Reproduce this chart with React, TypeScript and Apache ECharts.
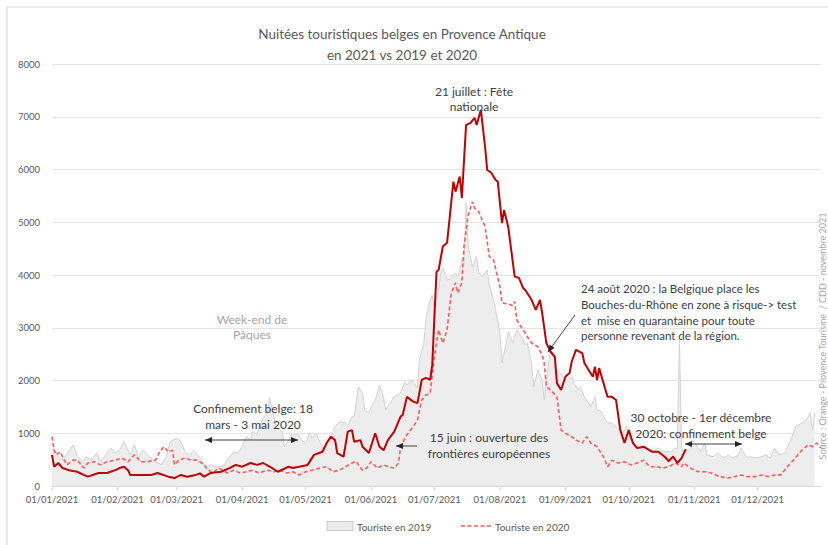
import React, { useEffect, useRef } from "react";
import * as echarts from "echarts";

// ---- axis categories (every day of 2021) ----
const categories: string[] = Array.from({ length: 365 }, (_, i) => {
  const d = new Date(Date.UTC(2021, 0, 1 + i));
  const dd = String(d.getUTCDate()).padStart(2, "0");
  const mm = String(d.getUTCMonth() + 1).padStart(2, "0");
  return `${dd}/${mm}/2021`;
});

const yTicks = [0, 1000, 2000, 3000, 4000, 5000, 6000, 7000, 8000];

// ---- 2019 (grey area) : day-of-year index / value ----
const days2019 = [0, 1, 3, 5, 8, 10, 12, 15, 16, 19, 21, 23, 26, 28, 30, 32, 34, 37, 39, 41, 43, 45, 49, 52, 54, 56, 59, 61, 63, 65, 67, 70, 73, 75, 78, 81, 83, 86, 88, 90, 92, 94, 95, 97, 98, 100, 102, 103, 105, 106, 109, 110, 112, 113, 115, 116, 118, 120, 122, 123, 125, 127, 129, 131, 134, 136, 139, 140, 142, 143, 145, 147, 148, 150, 151, 153, 155, 157, 158, 160, 162, 165, 167, 168, 170, 173, 174, 176, 177, 179, 180, 181, 183, 184, 185, 187, 189, 191, 192, 193, 194, 195, 196, 197, 199, 201, 202, 204, 206, 207, 209, 210, 212, 213, 215, 216, 218, 220, 222, 224, 225, 227, 228, 230, 232, 233, 235, 236, 238, 239, 242, 244, 246, 247, 249, 250, 252, 254, 255, 257, 258, 260, 262, 263, 265, 267, 269, 270, 272, 274, 276, 278, 281, 283, 285, 287, 289, 293, 295, 296, 297, 298, 299, 302, 303, 305, 307, 309, 310, 313, 315, 318, 320, 322, 325, 326, 329, 331, 333, 336, 338, 340, 342, 344, 347, 349, 351, 352, 355, 357, 359, 360, 361];
const values2019 = [680, 720, 555, 490, 650, 780, 555, 436, 555, 490, 625, 460, 625, 720, 625, 680, 840, 590, 780, 530, 680, 590, 460, 400, 555, 840, 910, 840, 650, 555, 680, 530, 360, 400, 366, 366, 490, 650, 625, 745, 935, 870, 1030, 970, 1125, 1290, 1385, 1670, 1315, 1125, 1030, 745, 870, 970, 970, 1000, 870, 815, 1000, 910, 1000, 815, 650, 815, 1125, 1220, 1195, 1125, 1315, 1300, 1880, 1760, 1440, 1385, 1480, 1630, 1915, 1670, 1440, 1570, 1690, 1760, 1975, 1915, 2010, 1860, 2425, 2710, 3150, 3530, 3620, 3400, 3715, 4040, 4135, 3905, 3945, 4040, 3970, 4095, 4285, 4200, 5365, 4540, 4160, 4350, 4040, 3970, 4095, 3810, 3530, 3340, 2900, 2330, 2710, 2930, 2710, 2960, 2830, 2675, 2710, 2330, 1880, 2200, 2010, 1630, 2330, 2580, 2450, 2200, 2070, 2010, 2070, 1950, 1820, 1880, 1690, 1570, 1505, 1690, 1440, 1410, 1250, 1195, 1195, 1125, 1060, 1000, 1125, 870, 745, 720, 680, 680, 680, 720, 650, 650, 720, 700, 2770, 745, 625, 680, 870, 780, 650, 815, 590, 555, 625, 530, 590, 530, 590, 720, 530, 555, 530, 555, 590, 530, 720, 590, 625, 815, 1000, 1125, 1195, 1250, 1385, 1060, 1385];

// ---- 2020 (dashed red) ----
const days2020 = [0, 1, 2, 4, 5, 7, 10, 12, 15, 17, 20, 23, 26, 30, 33, 36, 39, 42, 45, 49, 51, 53, 55, 57, 58, 60, 63, 66, 69, 72, 73, 76, 79, 83, 86, 89, 92, 95, 98, 102, 105, 108, 111, 114, 117, 120, 123, 127, 130, 133, 136, 139, 142, 144, 145, 147, 149, 151, 154, 157, 159, 162, 164, 165, 168, 171, 173, 175, 177, 179, 181, 183, 185, 187, 189, 191, 192, 194, 195, 197, 199, 200, 202, 205, 207, 209, 212, 213, 216, 218, 219, 220, 222, 224, 225, 227, 230, 232, 233, 234, 236, 239, 241, 243, 246, 248, 251, 253, 255, 258, 261, 263, 265, 268, 271, 274, 277, 280, 283, 286, 289, 292, 295, 298, 299, 302, 306, 309, 312, 316, 320, 323, 326, 329, 333, 336, 339, 342, 345, 348, 351, 353, 355, 358, 360, 362, 364];
const values2020 = [935, 680, 590, 650, 555, 400, 490, 490, 340, 436, 460, 400, 460, 490, 530, 460, 590, 460, 460, 490, 650, 745, 650, 680, 400, 490, 530, 490, 490, 400, 340, 246, 340, 246, 300, 246, 270, 300, 246, 300, 270, 300, 246, 270, 210, 270, 300, 340, 366, 270, 300, 366, 436, 470, 400, 300, 340, 460, 340, 400, 366, 340, 430, 745, 970, 1125, 1250, 1630, 1725, 1760, 2450, 2960, 2710, 2960, 3660, 3850, 3660, 3850, 4540, 5140, 5390, 5270, 5200, 4915, 4350, 4285, 3780, 3470, 3450, 3420, 3495, 3150, 3020, 2900, 2830, 2710, 2640, 2485, 2330, 1880, 1820, 1690, 1060, 1000, 935, 870, 815, 935, 815, 745, 555, 366, 490, 436, 460, 400, 436, 490, 366, 366, 340, 366, 436, 366, 436, 340, 270, 270, 246, 177, 150, 177, 210, 177, 177, 210, 177, 210, 210, 366, 490, 590, 680, 780, 745, 815, 720];

// ---- 2021 (solid dark red) ----
const days2021 = [0, 1, 3, 5, 8, 12, 15, 17, 22, 26, 30, 32, 34, 36, 37, 42, 47, 50, 55, 58, 61, 64, 68, 70, 72, 75, 80, 84, 87, 90, 94, 97, 100, 103, 107, 112, 114, 117, 121, 124, 128, 130, 132, 134, 135, 138, 140, 142, 143, 146, 147, 150, 153, 155, 157, 159, 162, 165, 166, 168, 171, 173, 175, 177, 179, 180, 181, 182, 183, 185, 187, 190, 191, 193, 194, 196, 198, 200, 201, 203, 205, 206, 208, 210, 211, 213, 214, 216, 219, 221, 223, 224, 227, 229, 231, 232, 234, 236, 238, 239, 241, 243, 245, 246, 248, 251, 252, 254, 256, 257, 258, 259, 262, 263, 265, 267, 269, 271, 273, 275, 277, 280, 284, 287, 290, 292, 294, 296, 298, 300];
const values2021 = [590, 366, 436, 340, 300, 270, 210, 177, 246, 246, 300, 340, 366, 300, 210, 210, 210, 246, 177, 150, 210, 177, 210, 240, 177, 246, 270, 340, 400, 366, 436, 400, 436, 366, 270, 366, 340, 366, 400, 590, 650, 815, 935, 870, 625, 555, 1030, 1060, 840, 870, 745, 625, 1000, 745, 680, 870, 1030, 1315, 1345, 1690, 1600, 1570, 2010, 2050, 2010, 2300, 3200, 4060, 4095, 4540, 4610, 5770, 5580, 5865, 5460, 6845, 6880, 6980, 6845, 7130, 6430, 5990, 5935, 5800, 5770, 4985, 5230, 4900, 3970, 3945, 3755, 3715, 3530, 3340, 3530, 3280, 2710, 2545, 2450, 1950, 1820, 2070, 2140, 2355, 2580, 2520, 2330, 2200, 2070, 2260, 2010, 2235, 1820, 1690, 1690, 1630, 1060, 815, 1060, 815, 720, 745, 650, 650, 555, 470, 560, 436, 530, 700];

const FONT = "Lato, 'Noto Sans', sans-serif";
const TXT = "#404040";

function pairs(days: number[], vals: number[]) {
  return days.map((d, i) => [d, vals[i]]);
}

function head(x1: number, y1: number, x2: number, y2: number) {
  const dx = x2 - x1, dy = y2 - y1;
  const L = Math.sqrt(dx * dx + dy * dy);
  const ux = dx / L, uy = dy / L;
  const len = 7, hw = 3;
  const bx = x2 - ux * len, by = y2 - uy * len;
  return {
    type: "polygon",
    shape: { points: [[x2, y2], [bx - uy * hw, by + ux * hw], [bx + uy * hw, by - ux * hw]] },
    style: { fill: "#262626" },
    z: 100,
  };
}

function arrow(x1: number, y1: number, x2: number, y2: number, both: boolean) {
  const els: any[] = [
    { type: "line", shape: { x1, y1, x2, y2 }, style: { stroke: "#404040", lineWidth: 1 }, z: 100 },
    head(x1, y1, x2, y2),
  ];
  if (both) els.push(head(x2, y2, x1, y1));
  return els;
}

function label(text: string, x: number, y: number, align: string, vAlign: string, opts: any = {}) {
  return {
    type: "text",
    x,
    y,
    z: 100,
    style: {
      text,
      fontFamily: FONT,
      fontSize: opts.fontSize ?? 12,
      fill: opts.fill ?? TXT,
      align,
      verticalAlign: vAlign,
      lineHeight: opts.lineHeight ?? 16,
    },
    rotation: opts.rotation ?? 0,
  };
}

export default function App() {
  const ref = useRef<HTMLDivElement>(null);
  useEffect(() => {
    document.body.style.margin = "0";
    const chart = echarts.init(ref.current!, null, { renderer: "svg" });
    chart.setOption({
      animation: false,
      backgroundColor: "#ffffff",
      grid: { left: 52, right: 7, top: 64, bottom: 59 },
      xAxis: {
        type: "category",
        data: categories,
        boundaryGap: false,
        axisLine: { lineStyle: { color: "#D9D9D9" } },
        axisTick: {
          show: true,
          interval: (_i: number, v: string) => v.startsWith("01/"),
          lineStyle: { color: "#D9D9D9" },
          length: 4,
        },
        axisLabel: {
          interval: (_i: number, v: string) => v.startsWith("01/"),
          fontFamily: FONT,
          fontSize: 9.5,
          color: "#595959",
          margin: 8,
        },
        splitLine: { show: false },
      },
      yAxis: {
        type: "value",
        min: yTicks[0],
        max: yTicks[yTicks.length - 1],
        interval: 1000,
        axisLine: { show: false },
        axisTick: { show: false },
        axisLabel: { fontFamily: FONT, fontSize: 9.5, color: "#595959", margin: 12, formatter: (v: number) => String(v) },
        splitLine: { lineStyle: { color: "#E4E4E4", width: 1 } },
      },
      series: [
        {
          name: "Touriste en 2019",
          type: "line",
          data: pairs(days2019, values2019),
          symbol: "none",
          lineStyle: { color: "#D2D2D2", width: 1 },
          itemStyle: { color: "#EBEBEB" },
          areaStyle: { color: "#EDEDED", opacity: 1 },
          z: 1,
        },
        {
          name: "Touriste en 2020",
          type: "line",
          data: pairs(days2020, values2020),
          symbol: "none",
          lineStyle: { color: "#FF5B5B", width: 1.6, type: [4, 2.5] },
          itemStyle: { color: "#FF5B5B" },
          z: 2,
        },
        {
          name: "Touriste en 2021",
          type: "line",
          data: pairs(days2021, values2021),
          symbol: "none",
          lineStyle: { color: "#C00000", width: 2 },
          itemStyle: { color: "#C00000" },
          z: 3,
        },
      ],
      graphic: [
        { type: "rect", shape: { x: 7, y: 7, width: 900, height: 700 }, style: { fill: "none", stroke: "#D9D9D9", lineWidth: 1 }, z: 0 },
        label("Nuitées touristiques belges en Provence Antique\nen 2021 vs 2019 et 2020", 402, 44.5, "center", "middle", { fontSize: 13.5, fill: "#595959", lineHeight: 21 }),
        label("21 juillet : Fête\nnationale", 474, 98.5, "center", "middle", { lineHeight: 15 }),
        label("Week-end de\nPâques", 252, 326.5, "center", "middle", { fill: "#A6A6A6", lineHeight: 15 }),
        label("Confinement belge: 18\nmars - 3 mai 2020", 253, 416, "center", "middle"),
        label("15 juin : ouverture des\nfrontières européennes", 489, 445, "center", "middle"),
        label("24 août 2020 : la Belgique place les\nBouches-du-Rhône en zone à risque-> test\net  mise en quarantaine pour toute\npersonne revenant de la région.", 581, 281, "left", "top", { lineHeight: 15.7, fontSize: 11.5 }),
        label("30 octobre - 1er décembre\n2020: confinement belge", 701, 425, "center", "middle"),
        label("Source : Orange - Provence Tourisme  / CDD - novembre 2021", 822, 336, "center", "middle", { fontSize: 9, fill: "#A6A6A6", rotation: Math.PI / 2, lineHeight: 10 }),
        // legend
        { type: "rect", shape: { x: 327, y: 521.5, width: 26, height: 9 }, style: { fill: "#EBEBEB", stroke: "#BFBFBF", lineWidth: 0.8 }, z: 100 },
        label("Touriste en 2019", 357, 526.5, "left", "middle", { fontSize: 10, fill: "#595959" }),
        { type: "line", shape: { x1: 461, y1: 526, x2: 492, y2: 526 }, style: { stroke: "#FF5B5B", lineWidth: 1.6, lineDash: [4, 2.5] }, z: 100 },
        label("Touriste en 2020", 495, 526.5, "left", "middle", { fontSize: 10, fill: "#595959" }),
        ...arrow(205, 440, 298, 440, true),
        ...arrow(417, 446, 396, 446, false),
        ...arrow(575, 315, 548, 352, false),
        ...arrow(685, 444, 742, 444, true),
      ],
    });
    return () => chart.dispose();
  }, []);
  return <div ref={ref} style={{ width: 828, height: 545 }} />;
}
